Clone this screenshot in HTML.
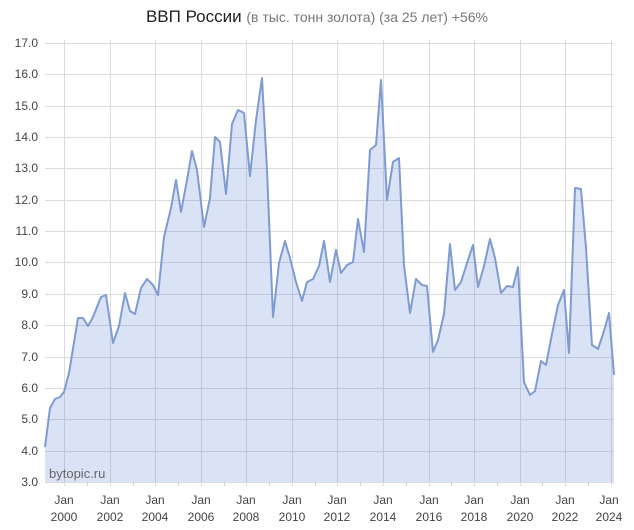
<!DOCTYPE html>
<html><head><meta charset="utf-8"><style>
body{margin:0;background:#fff;width:634px;height:530px;overflow:hidden}
svg{display:block;font-family:"Liberation Sans",Arial,sans-serif}
</style></head><body>
<svg width="634" height="530" viewBox="0 0 634 530">
<text x="317" y="22" text-anchor="middle" font-size="17" fill="#222">ВВП России <tspan font-size="14" fill="#777">(в тыс. тонн золота) (за 25 лет) +56%</tspan></text>
<g stroke="#dcdcdc" stroke-width="1">
<line x1="45" x2="614" y1="43.5" y2="43.5"/><line x1="45" x2="614" y1="74.5" y2="74.5"/><line x1="45" x2="614" y1="106.5" y2="106.5"/><line x1="45" x2="614" y1="137.5" y2="137.5"/><line x1="45" x2="614" y1="168.5" y2="168.5"/><line x1="45" x2="614" y1="200.5" y2="200.5"/><line x1="45" x2="614" y1="231.5" y2="231.5"/><line x1="45" x2="614" y1="262.5" y2="262.5"/><line x1="45" x2="614" y1="294.5" y2="294.5"/><line x1="45" x2="614" y1="325.5" y2="325.5"/><line x1="45" x2="614" y1="357.5" y2="357.5"/><line x1="45" x2="614" y1="388.5" y2="388.5"/><line x1="45" x2="614" y1="419.5" y2="419.5"/><line x1="45" x2="614" y1="451.5" y2="451.5"/><line x1="45" x2="614" y1="482.5" y2="482.5"/>
<line x1="64.5" x2="64.5" y1="40" y2="486"/><line x1="110.5" x2="110.5" y1="40" y2="486"/><line x1="155.5" x2="155.5" y1="40" y2="486"/><line x1="201.5" x2="201.5" y1="40" y2="486"/><line x1="246.5" x2="246.5" y1="40" y2="486"/><line x1="292.5" x2="292.5" y1="40" y2="486"/><line x1="337.5" x2="337.5" y1="40" y2="486"/><line x1="383.5" x2="383.5" y1="40" y2="486"/><line x1="429.5" x2="429.5" y1="40" y2="486"/><line x1="474.5" x2="474.5" y1="40" y2="486"/><line x1="520.5" x2="520.5" y1="40" y2="486"/><line x1="565.5" x2="565.5" y1="40" y2="486"/><line x1="611.5" x2="611.5" y1="40" y2="486"/>
</g>
<polygon fill="rgba(70,110,210,0.2)" points="45,482 45,447 50,408 55,399 60,397 64,392 69,373 78,318 83,318 88,326 93,317 101,297 106,295 113,343 119,326 125,293 130,311 135,314 141,288 147,279 153,285 158,295 164,237 171,208 176,180 181,212 187,180 192,151 197,170 204,227 210,198 215,137 220,142 226,194 232,124 238,110 244,113 250,176 256,120 262,78 267,170 273,317 279,263 285,241 290,258 296,282 302,301 307,282 313,279 319,266 324,241 330,282 336,250 341,273 347,265 353,262 358,219 364,252 370,150 376,145 381,80 387,200 393,162 399,158 404,265 410,313 416,279 422,285 427,286 433,352 438,340 444,314 450,244 455,290 461,282 467,263 473,245 478,287 484,266 490,239 495,258 501,293 507,286 513,287 518,267 524,382 530,395 535,391 541,361 546,365 552,334 558,305 564,290 569,353 575,188 581,189 586,248 592,345 598,349 604,331 609,313 614,375 614,482"/>
<g stroke="#c8d0e4" stroke-width="1"><line x1="87.5" x2="87.5" y1="482" y2="486"/><line x1="133.5" x2="133.5" y1="482" y2="486"/><line x1="178.5" x2="178.5" y1="482" y2="486"/><line x1="224.5" x2="224.5" y1="482" y2="486"/><line x1="269.5" x2="269.5" y1="482" y2="486"/><line x1="315.5" x2="315.5" y1="482" y2="486"/><line x1="360.5" x2="360.5" y1="482" y2="486"/><line x1="406.5" x2="406.5" y1="482" y2="486"/><line x1="451.5" x2="451.5" y1="482" y2="486"/><line x1="497.5" x2="497.5" y1="482" y2="486"/><line x1="542.5" x2="542.5" y1="482" y2="486"/><line x1="588.5" x2="588.5" y1="482" y2="486"/></g>
<polyline fill="none" stroke="#7f9bd0" stroke-width="2" stroke-linejoin="round" points="45,447 50,408 55,399 60,397 64,392 69,373 78,318 83,318 88,326 93,317 101,297 106,295 113,343 119,326 125,293 130,311 135,314 141,288 147,279 153,285 158,295 164,237 171,208 176,180 181,212 187,180 192,151 197,170 204,227 210,198 215,137 220,142 226,194 232,124 238,110 244,113 250,176 256,120 262,78 267,170 273,317 279,263 285,241 290,258 296,282 302,301 307,282 313,279 319,266 324,241 330,282 336,250 341,273 347,265 353,262 358,219 364,252 370,150 376,145 381,80 387,200 393,162 399,158 404,265 410,313 416,279 422,285 427,286 433,352 438,340 444,314 450,244 455,290 461,282 467,263 473,245 478,287 484,266 490,239 495,258 501,293 507,286 513,287 518,267 524,382 530,395 535,391 541,361 546,365 552,334 558,305 564,290 569,353 575,188 581,189 586,248 592,345 598,349 604,331 609,313 614,375"/>
<text x="49" y="478" font-size="13" fill="#666">bytopic.ru</text>
<g font-size="12" fill="#444" text-anchor="end">
<text x="38" y="47">17.0</text><text x="38" y="78">16.0</text><text x="38" y="110">15.0</text><text x="38" y="141">14.0</text><text x="38" y="172">13.0</text><text x="38" y="204">12.0</text><text x="38" y="235">11.0</text><text x="38" y="266">10.0</text><text x="38" y="298">9.0</text><text x="38" y="329">8.0</text><text x="38" y="361">7.0</text><text x="38" y="392">6.0</text><text x="38" y="423">5.0</text><text x="38" y="455">4.0</text><text x="38" y="486">3.0</text>
</g>
<g font-size="12" fill="#444" text-anchor="middle">
<text x="64" y="504">Jan</text><text x="64" y="521">2000</text>
<text x="110" y="504">Jan</text><text x="110" y="521">2002</text>
<text x="155" y="504">Jan</text><text x="155" y="521">2004</text>
<text x="201" y="504">Jan</text><text x="201" y="521">2006</text>
<text x="246" y="504">Jan</text><text x="246" y="521">2008</text>
<text x="292" y="504">Jan</text><text x="292" y="521">2010</text>
<text x="337" y="504">Jan</text><text x="337" y="521">2012</text>
<text x="383" y="504">Jan</text><text x="383" y="521">2014</text>
<text x="429" y="504">Jan</text><text x="429" y="521">2016</text>
<text x="474" y="504">Jan</text><text x="474" y="521">2018</text>
<text x="520" y="504">Jan</text><text x="520" y="521">2020</text>
<text x="565" y="504">Jan</text><text x="565" y="521">2022</text>
<text x="609" y="504">Jan</text><text x="609" y="521">2024</text>
</g>
</svg>
</body></html>
